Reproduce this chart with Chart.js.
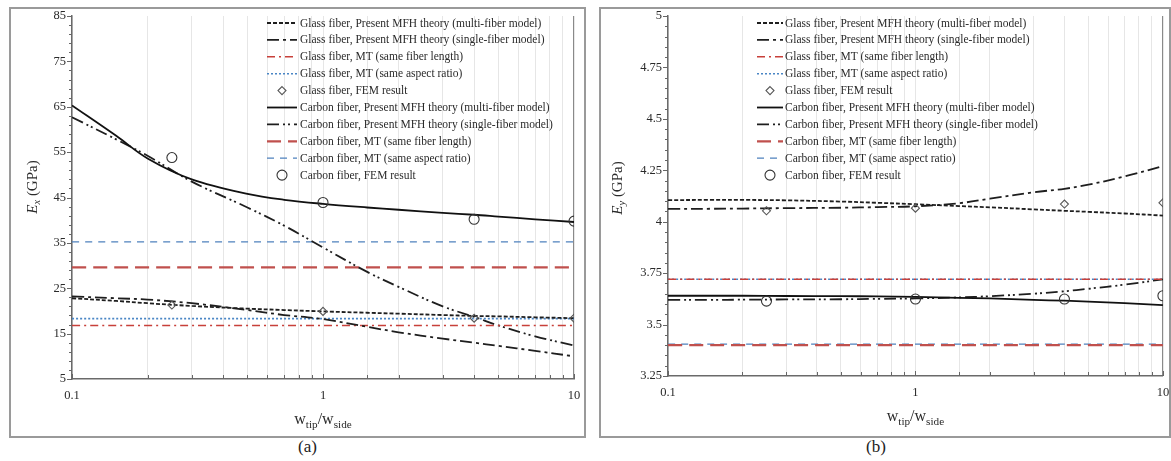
<!DOCTYPE html>
<html>
<head>
<meta charset="utf-8">
<script src="https://cdn.jsdelivr.net/npm/chart.js@4.4.1/dist/chart.umd.min.js"></script>
<style>
  body { margin: 0; background: #fff; width: 1171px; height: 461px; position: relative; overflow: hidden; }
  .panel { position: absolute; border: 2px solid #9a9a9a; background: #fff; }
  .panel canvas { display: block; }
  .cap { position: absolute; font-family: 'Liberation Serif', 'Times New Roman', serif; font-size: 17px; color: #222; }
</style>
</head>
<body>
<div class="panel" style="left:9px; top:7px; width:573px; height:427px;"><canvas id="chartEx" width="573" height="427"></canvas></div>
<div class="panel" style="left:599px; top:7px; width:568px; height:427px;"><canvas id="chartEy" width="568" height="427"></canvas></div>
<div class="cap" style="left:298px; top:437px;">(a)</div>
<div class="cap" style="left:866px; top:437px;">(b)</div>
<script>
// x values (w_tip / w_side)
const wRatio = [0.1, 0.15, 0.2, 0.3, 0.5, 0.7, 1, 1.5, 2, 3, 4, 5, 7, 10];
const wRatioFem = [0.25, 1, 4, 10];
const wRatioMT = [0.1, 10];
const wTicks = [0.1, 1, 10];

// (a) Ex in GPa
const exTicks = [5, 15, 25, 35, 45, 55, 65, 75, 85];
const exGlassMulti = [22.8, 22.2, 21.7, 21.1, 20.5, 20.2, 19.9, 19.6, 19.4, 19.1, 18.9, 18.8, 18.6, 18.4];
const exGlassSingle = [23.2, 22.8, 22.5, 21.7, 20.2, 19.1, 18.2, 16.5, 15.3, 13.9, 13.0, 12.3, 11.2, 10.0];
const exGlassMTLength = [16.8, 16.8];
const exGlassMTAspect = [18.3, 18.3];
const exGlassFem = [21.3, 19.9, 18.4, 18.4];
const exCarbonMulti = [65.3, 58.6, 53.6, 49.0, 45.8, 44.5, 43.6, 42.8, 42.3, 41.6, 41.2, 40.8, 40.2, 39.6];
const exCarbonSingle = [62.7, 57.8, 54.2, 48.5, 42.8, 38.8, 34.0, 28.6, 25.3, 21.0, 18.7, 16.8, 14.4, 12.4];
const exCarbonMTLength = [29.6, 29.6];
const exCarbonMTAspect = [35.2, 35.2];
const exCarbonFem = [53.8, 43.9, 40.2, 39.8];

// (b) Ey in GPa
const eyTicks = [3.25, 3.5, 3.75, 4, 4.25, 4.5, 4.75, 5];
const eyGlassMulti = [4.105, 4.106, 4.106, 4.104, 4.098, 4.092, 4.085, 4.076, 4.07, 4.06, 4.053, 4.048, 4.04, 4.03];
const eyGlassSingle = [4.062, 4.063, 4.064, 4.066, 4.068, 4.071, 4.075, 4.09, 4.112, 4.143, 4.16, 4.18, 4.22, 4.27];
const eyGlassMTLength = [3.72, 3.72];
const eyGlassMTAspect = [3.72, 3.72];
const eyGlassFem = [4.053, 4.066, 4.086, 4.092];
const eyCarbonMulti = [3.64, 3.64, 3.64, 3.639, 3.638, 3.637, 3.635, 3.63, 3.627, 3.62, 3.616, 3.612, 3.604, 3.595];
const eyCarbonSingle = [3.62, 3.62, 3.621, 3.622, 3.623, 3.625, 3.627, 3.632, 3.638, 3.65, 3.662, 3.674, 3.694, 3.72];
const eyCarbonMTLength = [3.40, 3.40];
const eyCarbonMTAspect = [3.405, 3.405];
const eyCarbonFem = [3.614, 3.624, 3.624, 3.64];

const legendLabels = [
  'Glass fiber, Present MFH theory (multi-fiber model)',
  'Glass fiber, Present MFH theory (single-fiber model)',
  'Glass fiber, MT (same fiber length)',
  'Glass fiber, MT (same aspect ratio)',
  'Glass fiber, FEM result',
  'Carbon fiber, Present MFH theory (multi-fiber model)',
  'Carbon fiber, Present MFH theory (single-fiber model)',
  'Carbon fiber, MT (same fiber length)',
  'Carbon fiber, MT (same aspect ratio)',
  'Carbon fiber, FEM result'
];

const SERIF = "'Liberation Serif', 'Times New Roman', serif";
const TEXT = '#2a2a2a';

// line look for each legend entry, same order as legendLabels
const looks = [
  { color: '#1e1e1e', dash: [4, 2], width: 1.8 },
  { color: '#1e1e1e', dash: [12, 4, 3, 4], width: 1.8 },
  { color: '#c8403a', dash: [8, 4, 2, 4], width: 1.5 },
  { color: '#4a86c5', dash: [2, 2], width: 1.6 },
  { marker: 'rectRot', color: '#555', radius: 4 },
  { color: '#111', dash: [], width: 1.8 },
  { color: '#1e1e1e', dash: [12, 4, 2, 3, 2, 4], width: 1.8 },
  { color: '#c0504d', dash: [14, 7], width: 2.2 },
  { color: '#4f81bd', dash: [7, 6], width: 1.2 },
  { marker: 'circle', color: '#333', radius: 5 }
];

function pts(xs, ys) {
  return xs.map((x, i) => ({ x: x, y: ys[i] }));
}

function makeSets(series) {
  // series: [[xs, ys], ...] in legend order
  return series.map((s, i) => {
    const lk = looks[i];
    if (lk.marker) {
      return {
        label: legendLabels[i], data: pts(s[0], s[1]), showLine: false,
        pointStyle: lk.marker, pointRadius: lk.radius, pointBorderColor: lk.color,
        pointBackgroundColor: 'rgba(255,255,255,0)', pointBorderWidth: 1.1, order: 0
      };
    }
    return {
      label: legendLabels[i], data: pts(s[0], s[1]), borderColor: lk.color,
      borderWidth: lk.width, borderDash: lk.dash, pointRadius: 0,
      tension: 0.35, fill: false, order: 1
    };
  });
}

function drawMarker(ctx, style, x, y, r, color) {
  ctx.save();
  ctx.setLineDash([]);
  ctx.strokeStyle = color;
  ctx.lineWidth = 1.1;
  ctx.beginPath();
  if (style === 'circle') {
    ctx.arc(x, y, r, 0, Math.PI * 2);
  } else {
    ctx.moveTo(x, y - r); ctx.lineTo(x + r, y); ctx.lineTo(x, y + r); ctx.lineTo(x - r, y); ctx.closePath();
  }
  ctx.stroke();
  ctx.restore();
}

// legend drawn inside the plot
const innerLegend = {
  id: 'innerLegend',
  afterDraw(chart, args, o) {
    const ctx = chart.ctx;
    ctx.save();
    ctx.font = '11.5px ' + SERIF;
    ctx.textBaseline = 'middle';
    ctx.fillStyle = TEXT;
    looks.forEach((lk, i) => {
      const y = o.y0 + i * o.dy;
      if (lk.marker) {
        drawMarker(ctx, lk.marker, (o.x0 + o.x1) / 2, y, lk.radius, lk.color);
      } else {
        ctx.save();
        ctx.strokeStyle = lk.color;
        ctx.lineWidth = lk.width;
        ctx.setLineDash(lk.dash);
        ctx.beginPath();
        ctx.moveTo(o.x0, y);
        ctx.lineTo(o.x1, y);
        ctx.stroke();
        ctx.restore();
      }
      ctx.fillText(legendLabels[i], o.xt, y + 0.5);
    });
    ctx.restore();
  }
};

// small tick marks on both axes
const axisMarks = {
  id: 'axisMarks',
  afterDraw(chart, args, o) {
    const ctx = chart.ctx;
    const xs = chart.scales.x, ys = chart.scales.y;
    const a = chart.chartArea;
    ctx.save();
    ctx.strokeStyle = '#666';
    ctx.lineWidth = 1;
    ctx.beginPath();
    xs.ticks.forEach(t => {
      const px = Math.round(xs.getPixelForValue(t.value)) + 0.5;
      const major = isDecade(t.value);
      ctx.moveTo(px, a.bottom);
      ctx.lineTo(px, a.bottom - (major ? 5 : 4));
    });
    const n = Math.round((ys.max - ys.min) / o.yMinor);
    for (let k = 0; k <= n; k++) {
      const v = ys.min + k * o.yMinor;
      const py = Math.round(ys.getPixelForValue(v)) + 0.5;
      const q = (v - ys.min) / o.yMajor;
      const major = Math.abs(q - Math.round(q)) < 1e-6;
      ctx.moveTo(a.left, py);
      ctx.lineTo(a.left - (major ? 5 : 3), py);
    }
    ctx.stroke();
    ctx.restore();
  }
};

function drawParts(ctx, parts, size) {
  let w = 0;
  parts.forEach(p => {
    ctx.font = (p.italic ? 'italic ' : '') + (p.sub ? size * 0.7 : size) + 'px ' + SERIF;
    p.w = ctx.measureText(p.t).width;
    w += p.w;
  });
  let x = -w / 2;
  parts.forEach(p => {
    ctx.font = (p.italic ? 'italic ' : '') + (p.sub ? size * 0.7 : size) + 'px ' + SERIF;
    ctx.fillText(p.t, x, p.sub ? size * 0.3 : 0);
    x += p.w;
  });
}

// axis titles with subscripts
const axisTitles = {
  id: 'axisTitles',
  afterDraw(chart, args, o) {
    const ctx = chart.ctx;
    const a = chart.chartArea;
    ctx.save();
    ctx.fillStyle = TEXT;
    ctx.textBaseline = 'middle';
    ctx.save();
    ctx.translate(o.yTitleX, o.yTitleY);
    ctx.rotate(-Math.PI / 2);
    drawParts(ctx, [{ t: 'E', italic: true }, { t: o.sub, italic: true, sub: true }, { t: ' (GPa)' }], 15);
    ctx.restore();
    ctx.translate((a.left + a.right) / 2, o.xTitleY);
    drawParts(ctx, [{ t: 'w' }, { t: 'tip', sub: true }, { t: '/' }, { t: 'w' }, { t: 'side', sub: true }], 16);
    ctx.restore();
  }
};

function isDecade(v) {
  const l = Math.log10(v);
  return Math.abs(l - Math.round(l)) < 1e-6;
}

function buildChart(id, sets, ticks, minor, area, legend, titles) {
  return new Chart(document.getElementById(id), {
    type: 'line',
    data: { datasets: sets },
    options: {
      responsive: false,
      animation: false,
      layout: { padding: { left: 0, top: area.top, right: area.right, bottom: 0 } },
      plugins: {
        legend: { display: false },
        tooltip: { enabled: false },
        innerLegend: legend,
        axisMarks: { yMinor: minor, yMajor: ticks[1] - ticks[0] },
        axisTitles: titles
      },
      scales: {
        x: {
          type: 'logarithmic',
          min: wTicks[0],
          max: wTicks[wTicks.length - 1],
          afterFit(s) { s.height = area.bottom; s.paddingLeft = 0; s.paddingRight = 0; },
          ticks: {
            autoSkip: false, maxRotation: 0, padding: 9, color: TEXT,
            font: { family: SERIF, size: 12.5 },
            callback: (v) => (isDecade(v) && wTicks.some(t => Math.abs(t - v) < 1e-9)) ? String(v) : ''
          },
          grid: {
            drawTicks: false,
            color: (c) => (c.tick && Math.abs(c.tick.value - 10) < 1e-6) ? '#8a8a8a' : '#e6e6e6',
            lineWidth: (c) => (c.tick && Math.abs(c.tick.value - 10) < 1e-6) ? 1.2 : 1
          },
          border: { display: true, color: '#6a6a6a', width: 1.5 }
        },
        y: {
          type: 'linear',
          min: ticks[0],
          max: ticks[ticks.length - 1],
          afterFit(s) { s.width = area.left; s.paddingTop = 0; s.paddingBottom = 0; },
          afterBuildTicks(s) { s.ticks = ticks.map(v => ({ value: v })); },
          ticks: {
            padding: 6, color: TEXT,
            font: { family: SERIF, size: 12.5 },
            callback: (v) => String(v)
          },
          grid: { display: false, drawTicks: false },
          border: { display: true, color: '#6a6a6a', width: 1.5 }
        }
      }
    },
    plugins: [axisMarks, innerLegend, axisTitles]
  });
}

buildChart('chartEx', makeSets([
  [wRatio, exGlassMulti], [wRatio, exGlassSingle], [wRatioMT, exGlassMTLength], [wRatioMT, exGlassMTAspect],
  [wRatioFem, exGlassFem], [wRatio, exCarbonMulti], [wRatio, exCarbonSingle], [wRatioMT, exCarbonMTLength],
  [wRatioMT, exCarbonMTAspect], [wRatioFem, exCarbonFem]
]), exTicks, 2, { left: 61, top: 7, right: 10, bottom: 57 },
  { x0: 256, x1: 286, xt: 289, y0: 14, dy: 16.9 },
  { sub: 'x', yTitleX: 22, yTitleY: 178, xTitleY: 411 });

buildChart('chartEy', makeSets([
  [wRatio, eyGlassMulti], [wRatio, eyGlassSingle], [wRatioMT, eyGlassMTLength], [wRatioMT, eyGlassMTAspect],
  [wRatioFem, eyGlassFem], [wRatio, eyCarbonMulti], [wRatio, eyCarbonSingle], [wRatioMT, eyCarbonMTLength],
  [wRatioMT, eyCarbonMTAspect], [wRatioFem, eyCarbonFem]
]), eyTicks, 0.05, { left: 67, top: 7, right: 5, bottom: 60 },
  { x0: 156, x1: 182, xt: 184, y0: 14, dy: 16.9 },
  { sub: 'y', yTitleX: 17, yTitleY: 179, xTitleY: 408 });
</script>
</body>
</html>
